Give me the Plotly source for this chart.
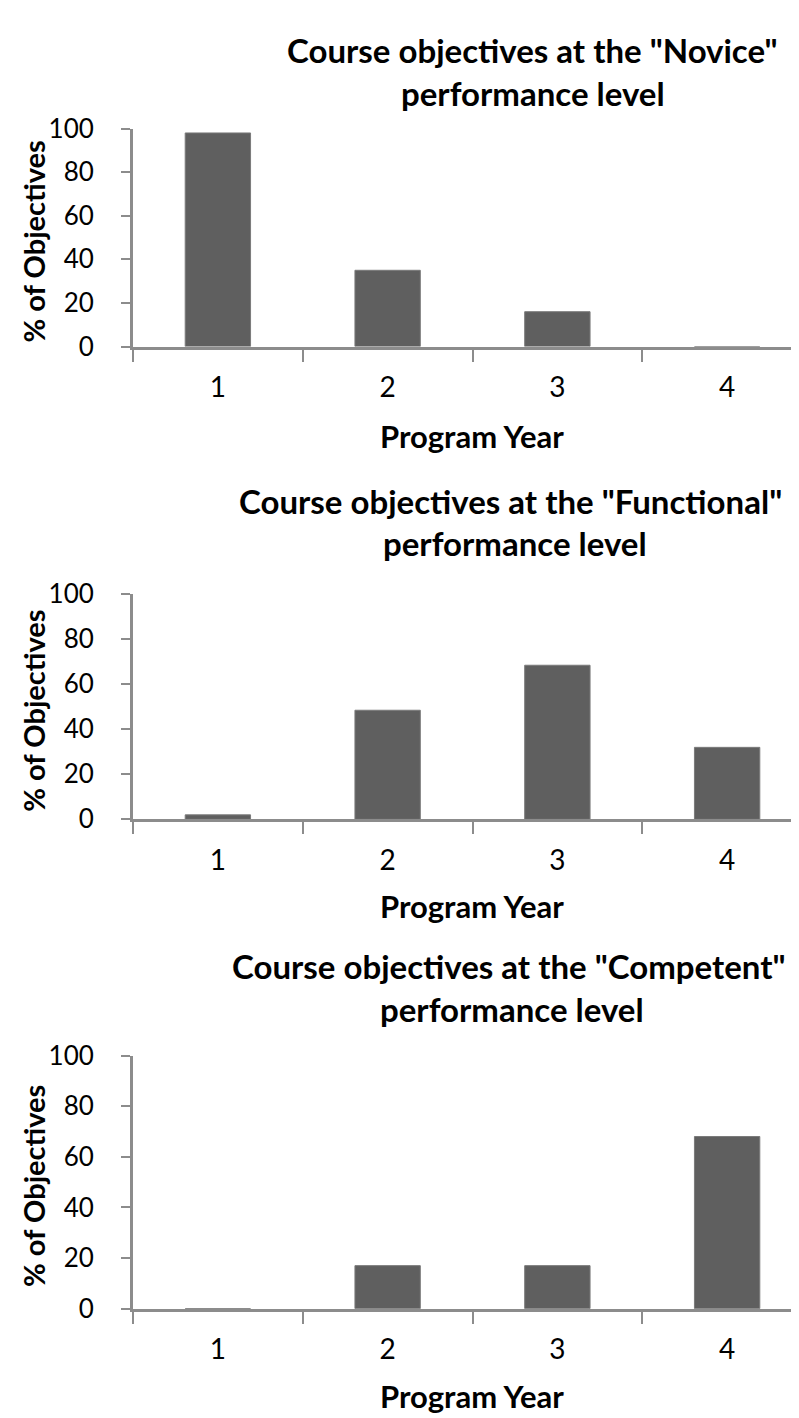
import plotly.graph_objects as go

# ---- data ----
years = ["1", "2", "3", "4"]
novice = [98, 35, 16, 0]
functional = [2, 48.5, 68.5, 32]
competent = [0, 17, 17, 68]

titles = [
    ('Course objectives at the "Novice"', "performance level"),
    ('Course objectives at the "Functional"', "performance level"),
    ('Course objectives at the "Competent"', "performance level"),
]
y_title = "% of Objectives"
x_title = "Program Year"
y_ticks = [0, 20, 40, 60, 80, 100]

W, H = 799, 1418
FONT = "Lato"

def py(p):  # pixel y -> paper y
    return 1 - p / H

def px(p):
    return p / W

# panel geometry (pixels): (y of 100, y of 0)
panels = [(106, 329), (582.5, 812.7), (1054.3, 1313.3)]
title_pos = [((524, 26), (525, 70)), ((502, 487), (507, 530)), ((500, 963), (504, 1007))]
xtitle_y = [420, 901, 1403]

series = [novice, functional, competent]

fig = go.Figure()
annotations = []
cat_w = 169.75
x_left = 125
x_range = [-0.5, -0.5 + (W - x_left) / cat_w]

for i, (vals, (ytop, ybot)) in enumerate(zip(series, panels)):
    n = "" if i == 0 else str(i + 1)
    fig.add_trace(go.Bar(
        x=years, y=vals, xaxis="x" + n, yaxis="y" + n,
        marker=dict(color="#5f5f5f", line=dict(color="#7a7a7a", width=1)),
        width=0.385, showlegend=False,
    ))
    fig.layout["xaxis" + n] = dict(
        domain=[px(x_left), 1], anchor="y" + n, type="category",
        range=x_range, showline=True, linecolor="#8c8c8c", linewidth=3,
        ticks="outside", tickson="boundaries", ticklen=12, tickwidth=2,
        tickcolor="#8c8c8c", showgrid=False, zeroline=False,
        tickfont=dict(family=FONT, size=28, color="black"),
        ticklabelstandoff=14,
    )
    fig.layout["yaxis" + n] = dict(
        domain=[py(ybot), py(ytop)], anchor="x" + n, range=[0, 100],
        tickvals=y_ticks, showline=True, linecolor="#8c8c8c", linewidth=3,
        ticks="outside", ticklen=9, tickwidth=2, tickcolor="#8c8c8c",
        showgrid=False, zeroline=False,
        tickfont=dict(family=FONT, size=26, color="black"),
        ticklabelstandoff=22,
    )
    (l1x, l1y), (l2x, l2y) = title_pos[i]
    for txt, tx, ty in ((titles[i][0], l1x, l1y), (titles[i][1], l2x, l2y)):
        annotations.append(dict(
            text="<b>" + txt + "</b>", x=px(tx), y=py(ty), xref="paper", yref="paper",
            xanchor="center", yanchor="middle", showarrow=False,
            font=dict(family=FONT, size=33, color="black"),
        ))
    annotations.append(dict(
        text="<b>" + y_title + "</b>", x=px(26), y=py((ytop + ybot) / 2 + 4),
        xref="paper", yref="paper", xanchor="center", yanchor="middle",
        textangle=-90, showarrow=False,
        font=dict(family=FONT, size=29, color="black"),
    ))
    annotations.append(dict(
        text="<b>" + x_title + "</b>", x=px(464), y=py(xtitle_y[i]),
        xref="paper", yref="paper", xanchor="center", yanchor="middle",
        showarrow=False, font=dict(family=FONT, size=31, color="black"),
    ))

fig.update_layout(
    width=W, height=H, margin=dict(l=0, r=0, t=0, b=0),
    paper_bgcolor="white", plot_bgcolor="white",
    annotations=annotations, bargap=0.6,
)

fig.write_html("out.html")
